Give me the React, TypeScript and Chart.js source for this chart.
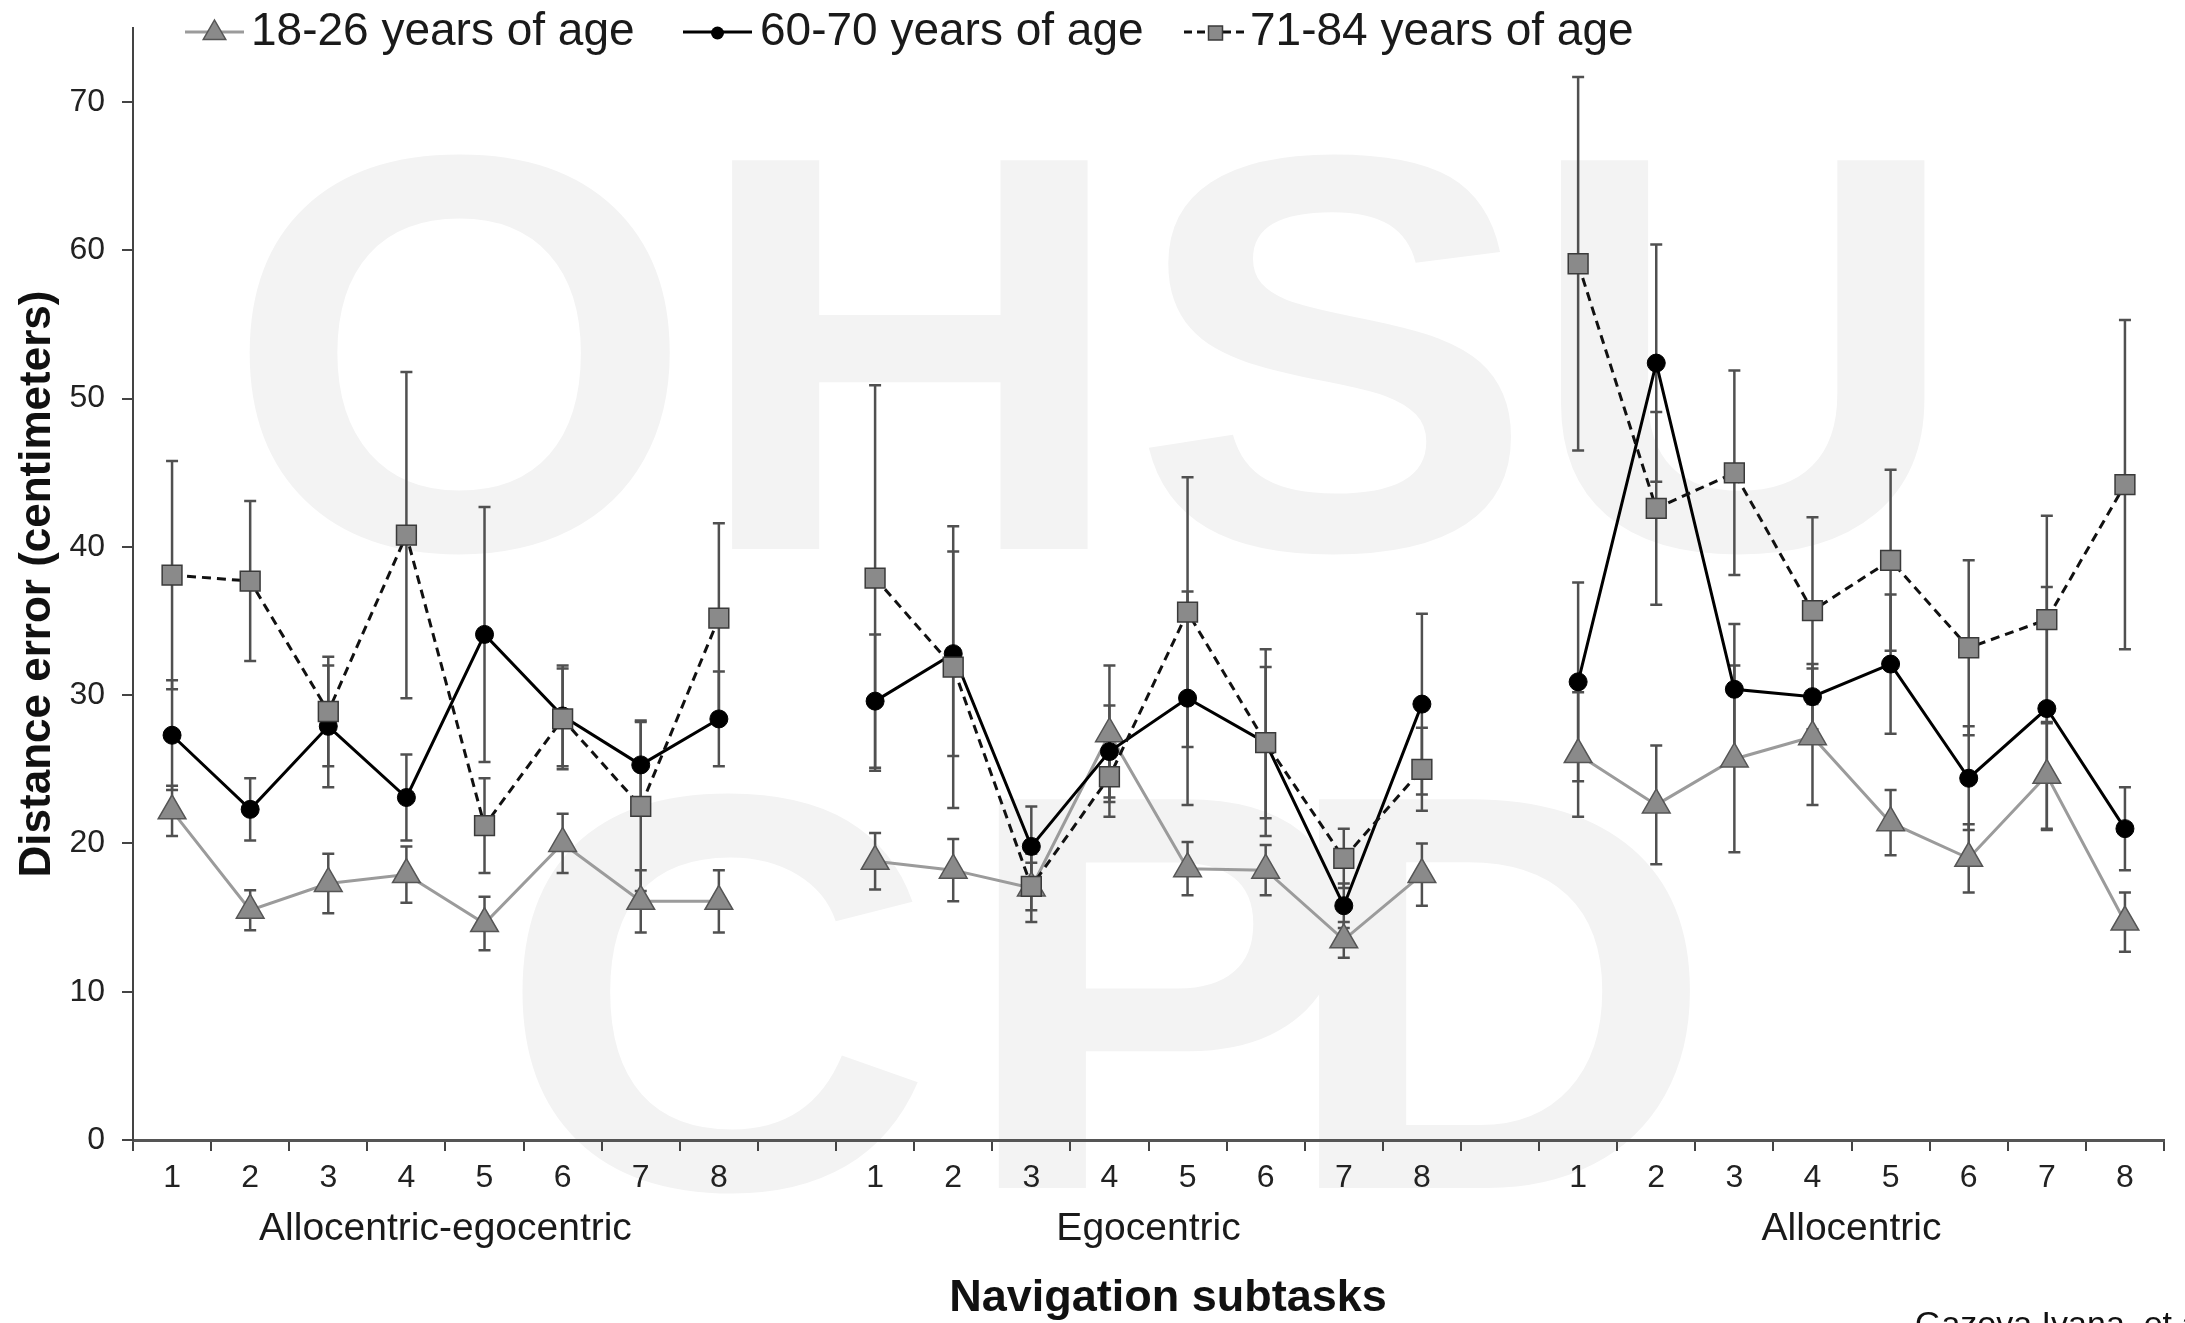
import React, { useEffect, useRef } from 'react';
import { Chart, registerables } from 'chart.js';

Chart.register(...registerables);

const FONT = "'Liberation Sans', Arial, Helvetica, sans-serif";
Chart.defaults.font.family = FONT;

// ---- categories / labels ----
const groupNames = ['Allocentric-egocentric', 'Egocentric', 'Allocentric'];
const subtasks = ['1', '2', '3', '4', '5', '6', '7', '8'];
const yTickValues = [0, 10, 20, 30, 40, 50, 60, 70];
const seriesNames = ['18-26 years of age', '60-70 years of age', '71-84 years of age'];
const xTitle = 'Navigation subtasks';
const yTitle = 'Distance error (centimeters)';
const watermarkTop = ['O', 'H', 'S', 'U'];
const watermarkBottom = ['C', 'P', 'D'];
const creditText = 'Gazova Ivana, et al.';

// ---- 18-26 years of age ----
const youngAlloEgo = [22.2, 15.5, 17.3, 17.9, 14.6, 20.0, 16.1, 16.1];
const youngEgo = [18.8, 18.2, 17.0, 27.4, 18.3, 18.2, 13.5, 17.9];
const youngAllo = [26.0, 22.6, 25.7, 27.2, 21.4, 19.0, 24.6, 14.7];
const youngAlloEgoErr = [1.7, 1.35, 2.0, 1.9, 1.8, 2.0, 2.1, 2.1];
const youngEgoErr = [1.9, 2.1, 2.3, 4.6, 1.8, 1.7, 1.2, 2.1];
const youngAlloErr = [4.2, 4.0, 6.3, 4.6, 2.2, 2.3, 3.6, 2.0];

// ---- 60-70 years of age ----
const middleAlloEgo = [27.3, 22.3, 27.9, 23.1, 34.1, 28.6, 25.3, 28.4];
const middleEgo = [29.6, 32.8, 19.8, 26.2, 29.8, 26.8, 15.8, 29.4];
const middleAllo = [30.9, 52.4, 30.4, 29.9, 32.1, 24.4, 29.1, 21.0];
const middleAlloEgoErr = [3.7, 2.1, 4.1, 2.9, 8.6, 3.4, 3.0, 3.2];
const middleEgoErr = [4.5, 6.9, 2.7, 3.1, 7.2, 5.1, 1.5, 6.1];
const middleAlloErr = [6.7, 8.0, 4.4, 2.2, 4.7, 3.5, 8.2, 2.8];

// ---- 71-84 years of age ----
const oldAlloEgo = [38.1, 37.7, 28.9, 40.8, 21.2, 28.4, 22.5, 35.2];
const oldEgo = [37.9, 31.9, 17.1, 24.5, 35.6, 26.8, 19.0, 25.0];
const oldAllo = [59.1, 42.6, 45.0, 35.7, 39.1, 33.2, 35.1, 44.2];
const oldAlloEgoErr = [7.7, 5.4, 3.7, 11.0, 3.2, 3.4, 5.7, 6.4];
const oldEgoErr = [13.0, 9.5, 1.6, 2.7, 9.1, 6.3, 2.0, 2.8];
const oldAlloErr = [12.6, 6.5, 6.9, 6.3, 6.1, 5.9, 7.0, 11.1];

function joinGroups<T>(groups: T[][], gap: T): T[] {
  const out: T[] = [];
  groups.forEach((g, i) => {
    if (i > 0) out.push(gap);
    out.push(...g);
  });
  return out;
}

const labels = joinGroups([subtasks, subtasks, subtasks], '');
const youngData = joinGroups<number | null>([youngAlloEgo, youngEgo, youngAllo], null);
const middleData = joinGroups<number | null>([middleAlloEgo, middleEgo, middleAllo], null);
const oldData = joinGroups<number | null>([oldAlloEgo, oldEgo, oldAllo], null);
const youngErr = joinGroups<number | null>([youngAlloEgoErr, youngEgoErr, youngAlloErr], null);
const middleErr = joinGroups<number | null>([middleAlloEgoErr, middleEgoErr, middleAlloErr], null);
const oldErr = joinGroups<number | null>([oldAlloEgoErr, oldEgoErr, oldAlloErr], null);
const errorSets = [youngErr, middleErr, oldErr];

const watermarkPlugin = {
  id: 'watermark',
  beforeDraw(chart: any) {
    const ctx = chart.ctx;
    ctx.save();
    ctx.fillStyle = '#f3f3f3';
    ctx.font = `bold 565px ${FONT}`;
    ctx.textAlign = 'center';
    ctx.textBaseline = 'alphabetic';
    const topCenters = [460, 910, 1333, 1743];
    watermarkTop.forEach((ch, i) => {
      ctx.save();
      ctx.translate(topCenters[i], 549);
      ctx.scale(1.07, 1);
      ctx.fillText(ch, 0, 0);
      ctx.restore();
    });
    const botCenters = [716, 1160, 1497];
    watermarkBottom.forEach((ch, i) => {
      ctx.save();
      ctx.translate(botCenters[i], 1188);
      ctx.scale(1.07, 1);
      ctx.fillText(ch, 0, 0);
      ctx.restore();
    });
    ctx.restore();
  },
};

const errorBarPlugin = {
  id: 'errorBars',
  beforeDatasetsDraw(chart: any) {
    const ctx = chart.ctx;
    const y = chart.scales.y;
    ctx.save();
    ctx.strokeStyle = '#505050';
    ctx.lineWidth = 2.5;
    chart.data.datasets.forEach((ds: any, i: number) => {
      const meta = chart.getDatasetMeta(i);
      const errs = errorSets[i];
      ds.data.forEach((v: number | null, j: number) => {
        if (v == null || errs[j] == null) return;
        const px = meta.data[j].x;
        const top = y.getPixelForValue(v + (errs[j] as number));
        const bot = y.getPixelForValue(v - (errs[j] as number));
        ctx.beginPath();
        ctx.moveTo(px, top);
        ctx.lineTo(px, bot);
        ctx.moveTo(px - 6, top);
        ctx.lineTo(px + 6, top);
        ctx.moveTo(px - 6, bot);
        ctx.lineTo(px + 6, bot);
        ctx.stroke();
      });
    });
    ctx.restore();
  },
};

function drawMarker(ctx: CanvasRenderingContext2D, kind: string, x: number, y: number) {
  ctx.save();
  ctx.setLineDash([]);
  ctx.beginPath();
  if (kind === 'triangle') {
    const r = 13;
    ctx.moveTo(x, y - r);
    ctx.lineTo(x + r * 0.866, y + r * 0.5);
    ctx.lineTo(x - r * 0.866, y + r * 0.5);
    ctx.closePath();
    ctx.fillStyle = '#8a8a8a';
    ctx.strokeStyle = '#555';
    ctx.lineWidth = 1.5;
    ctx.fill();
    ctx.stroke();
  } else if (kind === 'circle') {
    ctx.arc(x, y, 6.5, 0, Math.PI * 2);
    ctx.fillStyle = '#000';
    ctx.fill();
  } else {
    ctx.rect(x - 7, y - 7, 14, 14);
    ctx.fillStyle = '#8a8a8a';
    ctx.strokeStyle = '#3a3a3a';
    ctx.lineWidth = 1.5;
    ctx.fill();
    ctx.stroke();
  }
  ctx.restore();
}

const decorPlugin = {
  id: 'decor',
  afterDraw(chart: any) {
    const ctx = chart.ctx;
    const x = chart.scales.x;
    ctx.save();
    // group labels
    ctx.fillStyle = '#1a1a1a';
    ctx.font = `39px ${FONT}`;
    ctx.textAlign = 'center';
    ctx.textBaseline = 'alphabetic';
    groupNames.forEach((name, g) => {
      const start = g * (subtasks.length + 1);
      const cx = (x.getPixelForValue(start) + x.getPixelForValue(start + subtasks.length - 1)) / 2;
      ctx.fillText(name, cx, 1240);
    });
    // x-axis title
    ctx.fillStyle = '#111';
    ctx.font = `bold 45px ${FONT}`;
    ctx.fillText(xTitle, 1168, 1311);
    // legend
    const items = [
      { kind: 'triangle', x1: 185, x2: 244, tx: 251, color: '#9b9b9b', dash: [] as number[] },
      { kind: 'circle', x1: 683, x2: 752, tx: 760, color: '#000', dash: [] as number[] },
      { kind: 'rect', x1: 1184, x2: 1247, tx: 1250, color: '#111', dash: [8, 5] },
    ];
    items.forEach((it, i) => {
      ctx.save();
      ctx.strokeStyle = it.color;
      ctx.lineWidth = 3;
      ctx.setLineDash(it.dash);
      ctx.beginPath();
      ctx.moveTo(it.x1, 32);
      ctx.lineTo(it.x2, 32);
      ctx.stroke();
      ctx.restore();
      drawMarker(ctx, it.kind, (it.x1 + it.x2) / 2, 33);
      ctx.fillStyle = '#1a1a1a';
      ctx.font = `46px ${FONT}`;
      ctx.textAlign = 'left';
      ctx.fillText(seriesNames[i], it.tx, 45);
    });
    // credit (cut off at the bottom edge)
    ctx.fillStyle = '#111';
    ctx.font = `34px ${FONT}`;
    ctx.textAlign = 'left';
    ctx.fillText(creditText, 1915, 1335);
    ctx.restore();
  },
};

export default function App() {
  const canvasRef = useRef<HTMLCanvasElement | null>(null);

  useEffect(() => {
    if (!canvasRef.current) return;
    const chart = new Chart(canvasRef.current, {
      type: 'line',
      data: {
        labels,
        datasets: [
          {
            label: seriesNames[0],
            data: youngData,
            borderColor: '#9b9b9b',
            borderWidth: 3,
            pointStyle: 'triangle',
            pointRadius: 16,
            pointBackgroundColor: '#8a8a8a',
            pointBorderColor: '#555',
            pointBorderWidth: 1.5,
            spanGaps: false,
            tension: 0,
            order: 3,
          },
          {
            label: seriesNames[1],
            data: middleData,
            borderColor: '#000',
            borderWidth: 3,
            pointStyle: 'circle',
            pointRadius: 9,
            pointBackgroundColor: '#000',
            pointBorderColor: '#000',
            pointBorderWidth: 1,
            spanGaps: false,
            tension: 0,
            order: 2,
          },
          {
            label: seriesNames[2],
            data: oldData,
            borderColor: '#111',
            borderWidth: 3,
            borderDash: [9, 6],
            pointStyle: 'rect',
            pointRadius: 14,
            pointBackgroundColor: '#8a8a8a',
            pointBorderColor: '#3a3a3a',
            pointBorderWidth: 1.5,
            spanGaps: false,
            tension: 0,
            order: 1,
          },
        ],
      },
      options: {
        animation: false,
        responsive: false,
        events: [],
        layout: { padding: { left: 0, right: 21, top: 28, bottom: 0 } },
        plugins: { legend: { display: false }, tooltip: { enabled: false } },
        scales: {
          x: {
            type: 'category',
            offset: true,
            grid: {
              display: true,
              offset: true,
              drawOnChartArea: false,
              drawTicks: true,
              tickLength: 11,
              color: '#444',
              lineWidth: 2,
            },
            border: { display: true, color: '#555', width: 3 },
            ticks: { color: '#222', font: { size: 32 }, padding: 8, maxRotation: 0, autoSkip: false },
            title: { display: false },
            afterFit: (s: any) => {
              s.height = 183;
            },
          },
          y: {
            min: 0,
            max: 75,
            afterBuildTicks: (s: any) => {
              s.ticks = yTickValues.map((v) => ({ value: v }));
            },
            grid: { drawOnChartArea: false, drawTicks: true, tickLength: 11, color: '#444', lineWidth: 2 },
            border: { display: true, color: '#444', width: 2 },
            ticks: { color: '#222', font: { size: 32, lineHeight: 0.5 }, padding: 17 },
            title: {
              display: true,
              text: yTitle,
              color: '#111',
              font: { size: 44, weight: 'bold' },
              padding: { top: 11, bottom: 0 },
            },
            afterFit: (s: any) => {
              s.width = 133;
            },
          },
        },
      } as any,
      plugins: [watermarkPlugin, errorBarPlugin, decorPlugin],
    });
    return () => chart.destroy();
  }, []);

  return (
    <div style={{ position: 'absolute', left: 0, top: 0, width: 2185, height: 1323, background: '#fff' }}>
      <canvas ref={canvasRef} width={2185} height={1323} style={{ display: 'block' }} />
    </div>
  );
}
